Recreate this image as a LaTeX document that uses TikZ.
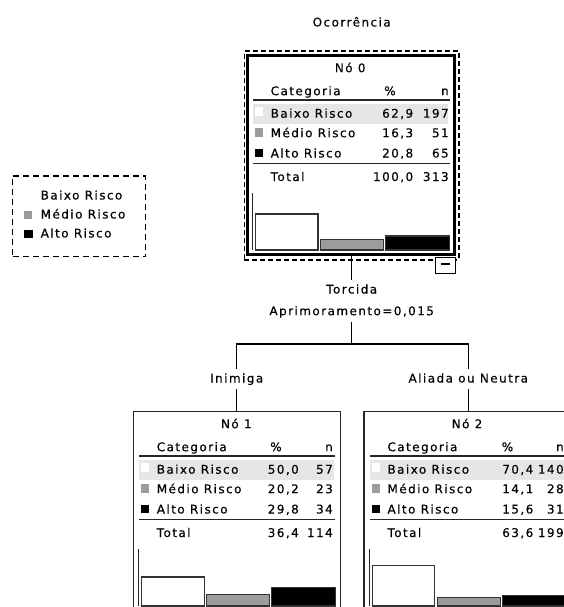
\documentclass[tikz,border=0pt]{standalone}
\usepackage{fontspec}
\newfontfamily\tabfont[LetterSpace=12,FakeBold=0.4]{DejaVu Sans}
\newcommand\tf{\tabfont\fontsize{12}{14}\selectfont}
\definecolor{midgray}{HTML}{9C9C9C}
\definecolor{hl}{HTML}{E6E6E6}
\tikzset{
  t/.style={font=\tf, inner sep=0pt, outer sep=0pt, text height=9pt, text depth=2pt},
  lbl/.style={font=\tf, inner sep=4.5pt, outer sep=0pt, text height=9pt, text depth=2pt},
  conn/.style={draw=black, line width=1.2pt},
  rulel/.style={draw=black!85, line width=1.4pt},
  axisl/.style={draw=black!85, line width=1.2pt},
  barb/.style={draw=black!80, line width=1.1pt},
  nodebox/.style={draw=black!85, line width=1.4pt, inner sep=0pt, outer sep=0pt,
    minimum width=207.2pt, minimum height=198.6pt},
}
\newcommand\trow[5]{%
  \node[t, anchor=west] (\pfx-#1l) at (23.5,#2) {#3};
  \node[t, anchor=east] (\pfx-#1p) at (\pctx,#2) {#4};
  \node[t, anchor=east] (\pfx-#1n) at (\nx,#2) {#5};
}
\newcommand\tabbody[1]{%
  \fill[hl] (5.8,48.3) rectangle (\hlx,68.3);
  \node[t] (\pfx-title) at (103,13) {#1};
  \node[t, anchor=west] (\pfx-cat) at (23.5,36) {Categoria};
  \node[t] (\pfx-pcth) at (\pcth,36) {\%};
  \node[t, anchor=east] (\pfx-nh) at (\nx,36) {n};
  \draw[rulel] (6,44.3) -- (\rulex,44.3);
  \draw[rulel] (6,107.5) -- (\rulex,107.5);
  \fill[white] (7.5,51.5) rectangle (16,60);
  \fill[midgray] (7.5,72.5) rectangle (16,81);
  \fill[black] (7.5,93) rectangle (16,101.5);
  \draw[axisl] (5.3,137.3) -- (5.3,194.3);
}
\newcommand\tabbars[3]{%
  \draw[barb, fill=white] (8.6,194.3) rectangle (70.8,{194.3-#1});
  \draw[barb, fill=midgray] (73.5,194.3) rectangle (136.5,{194.3-#2});
  \draw[barb, fill=black] (138.6,194.3) rectangle (202.3,{194.3-#3});
}
\begin{document}
\begin{tikzpicture}[x=1pt,y=-1pt]
\useasboundingbox (0,0) rectangle (564,607);
\clip (0,0) rectangle (564,607);

% title
\node[t] (title) at (351.7,23) {Ocorrência};

% legend
\node[draw=black, line width=1.3pt, dash pattern=on 6pt off 4pt, inner sep=0pt,
  minimum width=133pt, minimum height=80.7pt] (leg) at (79.2,216.4) {};
\fill[white] (23.5,191.5) rectangle (32,200);
\fill[midgray] (23.5,210.5) rectangle (32,219);
\fill[black] (24,229.5) rectangle (32.5,238);
\node[t, anchor=west] (lg1) at (40.7,196) {Baixo Risco};
\node[t, anchor=west] (lg2) at (40.7,215) {Médio Risco};
\node[t, anchor=west] (lg3) at (40.7,234) {Alto Risco};

% node 0
\node[draw=black, line width=1.6pt, dash pattern=on 5pt off 3pt, inner sep=0pt,
  minimum width=214.5pt, minimum height=208.4pt] (n0sel) at (351.55,155.5) {};
\node[nodebox, draw=black, line width=3pt] (n0) at (350.75,155) {};
\begin{scope}[shift={(247.2,55.7)}]
  \def\pfx{a}\def\pctx{166}\def\nx{201.5}\def\pcth{142.8}\def\hlx{200.8}\def\rulex{202.8}
  \tabbody{Nó 0}
  \trow{b}{58.5}{Baixo Risco}{62,9}{197}
  \trow{m}{78}{Médio Risco}{16,3}{51}
  \trow{h}{98.3}{Alto Risco}{20,8}{65}
  \trow{t}{121.8}{Total}{100,0}{313}
  \tabbars{36}{10.7}{14}
\end{scope}
\node[draw=black, line width=1.2pt, fill=white, inner sep=0pt,
  minimum width=20pt, minimum height=16pt] (tog) at (445.3,265.5) {};
\draw[line width=1.2pt] ([xshift=-4.5pt,yshift=1.5pt]tog.center) -- ([xshift=4.5pt,yshift=1.5pt]tog.center);

% split labels
\node[lbl] (torc) at (351.7,290) {Torcida};
\node[lbl] (apr) at (351.7,311.7) {Aprimoramento=0,015};
\coordinate (jn) at (351.7,344);
\node[lbl] (inim) at (236.7,379) {Inimiga};
\node[lbl] (alia) at (468.3,379) {Aliada ou Neutra};

% node 1
\node[nodebox] (n1) at (237,511) {};
\begin{scope}[shift={(133.3,411.7)}]
  \def\pfx{b}\def\pctx{165.5}\def\nx{199.5}\def\pcth{142.7}\def\hlx{200.3}\def\rulex{201.7}
  \tabbody{Nó 1}
  \trow{b}{58.5}{Baixo Risco}{50,0}{57}
  \trow{m}{78}{Médio Risco}{20,2}{23}
  \trow{h}{98.3}{Alto Risco}{29,8}{34}
  \trow{t}{121.8}{Total}{36,4}{114}
  \tabbars{29}{11.7}{18.4}
\end{scope}

% node 2
\node[nodebox] (n2) at (467.7,511) {};
\begin{scope}[shift={(364,411.7)}]
  \def\pfx{c}\def\pctx{169.3}\def\nx{199.7}\def\pcth{143.5}\def\hlx{205}\def\rulex{205}
  \tabbody{Nó 2}
  \trow{b}{58.5}{Baixo Risco}{70,4}{140}
  \trow{m}{78}{Médio Risco}{14,1}{28}
  \trow{h}{98.3}{Alto Risco}{15,6}{31}
  \trow{t}{121.8}{Total}{63,6}{199}
  \tabbars{40.4}{8.4}{10.7}
\end{scope}

% connectors
\draw[conn] (torc.north) -- (torc.north |- n0.south);
\draw[conn] (apr.south) -- (jn);
\draw[conn] (inim.north) |- (jn) -| (alia.north);
\draw[conn] (inim.south) -- (inim.south |- n1.north);
\draw[conn] (alia.south) -- (alia.south |- n2.north);
\end{tikzpicture}
\end{document}
